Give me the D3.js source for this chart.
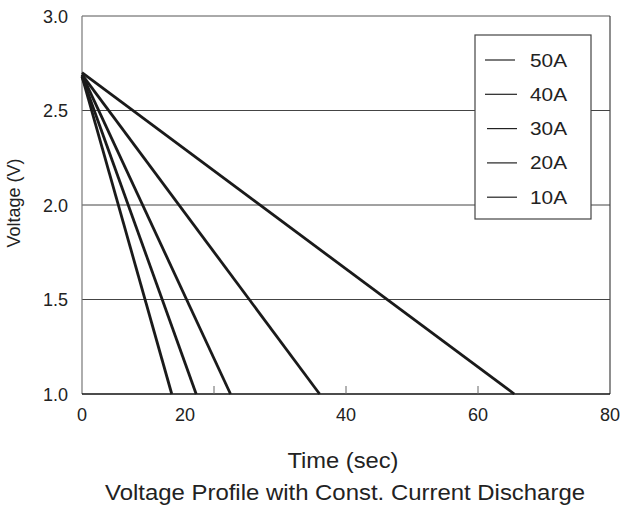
<!DOCTYPE html>
<html><head><meta charset="utf-8">
<script src="https://cdn.jsdelivr.net/npm/d3@7"></script>
<style>body{margin:0;background:#fff}text{font-family:"Liberation Sans",Arial,sans-serif;fill:#222}</style>
</head><body><svg id="c" width="622" height="505"></svg>
<script>
const series = ["50A","40A","30A","20A","10A"];
const startV = [2.68, 2.68, 2.69, 2.69, 2.70];
const endTime = [13.6, 17.3, 22.5, 36.0, 65.5];
const endV = [1.0, 1.0, 1.0, 1.0, 1.0];
const xTicks = [0, 20, 40, 60, 80];
const xTickLabels = ["0", "20", "40", "60", "80"];
const yTicks = [1.0, 1.5, 2.0, 2.5, 3.0];
const yTickLabels = ["1.0", "1.5", "2.0", "2.5", "3.0"];

const svg = d3.select("#c");
const L = 82, R = 610, T = 16, B = 394;
const x = d3.scaleLinear().domain([0, 80]).range([L, R]);
const y = d3.scaleLinear().domain([1.0, 3.0]).range([B, T]);

// gridlines
svg.append("g").selectAll("line").data(yTicks.filter(v => v > 1 && v < 3)).join("line")
  .attr("x1", L).attr("x2", R).attr("y1", d => y(d)).attr("y2", d => y(d))
  .attr("stroke", "#444").attr("stroke-width", 1);

// frame
svg.append("line").attr("x1", L).attr("x2", R).attr("y1", T).attr("y2", T).attr("stroke", "#555").attr("stroke-width", 1);
svg.append("line").attr("x1", L).attr("x2", L).attr("y1", T).attr("y2", B).attr("stroke", "#777").attr("stroke-width", 1.2);
svg.append("line").attr("x1", R).attr("x2", R).attr("y1", T).attr("y2", B).attr("stroke", "#444").attr("stroke-width", 1.2);
svg.append("line").attr("x1", L).attr("x2", R).attr("y1", B).attr("y2", B).attr("stroke", "#111").attr("stroke-width", 1.6);

// x minor ticks (inside)
svg.append("g").selectAll("line").data(xTicks.filter(v => v > 0 && v < 80)).join("line")
  .attr("x1", d => x(d)).attr("x2", d => x(d)).attr("y1", B).attr("y2", B - 8)
  .attr("stroke", "#666").attr("stroke-width", 1);

// x tick labels (the "20" label sits left of its tick in the reference)
const xLabelShift = d => d === 20 ? -29 : 0;
svg.append("g").selectAll("text").data(xTicks).join("text")
  .attr("x", (d) => x(d) + xLabelShift(d)).attr("y", 421)
  .attr("text-anchor", "middle").attr("font-size", 18)
  .text((d, i) => xTickLabels[i]);

// y tick labels
svg.append("g").selectAll("text").data(yTicks).join("text")
  .attr("x", 68).attr("y", d => y(d) + 6.5)
  .attr("text-anchor", "end").attr("font-size", 18)
  .text((d, i) => yTickLabels[i]);

// lines
const line = d3.line().x(d => x(d[0])).y(d => y(d[1]));
svg.append("g").selectAll("path").data(series).join("path")
  .attr("d", (s, i) => line([[0, startV[i]], [endTime[i], endV[i]]]))
  .attr("fill", "none").attr("stroke", "#1a1a1a").attr("stroke-width", 2.8);

// legend
const lg = svg.append("g");
lg.append("rect").attr("x", 475).attr("y", 35).attr("width", 116).attr("height", 184)
  .attr("fill", "#fff").attr("stroke", "#444").attr("stroke-width", 1.2);
series.forEach((s, i) => {
  const yy = 60 + i * 34.3;
  lg.append("line").attr("x1", 485 + (i > 1 ? 2 : 0)).attr("x2", 515 + (i > 0 ? 2 : 0)).attr("y1", yy).attr("y2", yy)
    .attr("stroke", "#222").attr("stroke-width", 1.2);
  lg.append("text").attr("x", 530).attr("y", yy + 6.5).attr("font-size", 18)
    .attr("textLength", 37).attr("lengthAdjust", "spacingAndGlyphs").text(s);
});

// titles
svg.append("text").attr("x", 343).attr("y", 468).attr("text-anchor", "middle").attr("font-size", 22)
  .attr("textLength", 111).attr("lengthAdjust", "spacingAndGlyphs").text("Time (sec)");
svg.append("text").attr("x", 345).attr("y", 500).attr("text-anchor", "middle").attr("font-size", 22)
  .attr("textLength", 480).attr("lengthAdjust", "spacingAndGlyphs").text("Voltage Profile with Const. Current Discharge");
svg.append("text").attr("transform", "translate(20,203) rotate(-90)").attr("text-anchor", "middle").attr("font-size", 18).text("Voltage (V)");
</script></body></html>
